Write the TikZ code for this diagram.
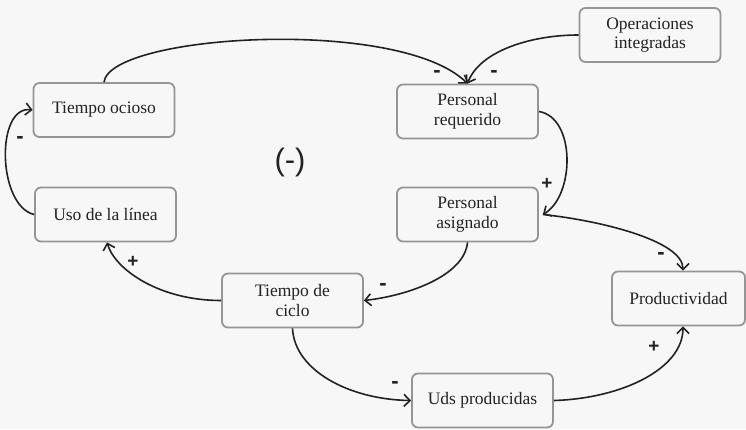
\documentclass[tikz,border=0pt]{standalone}
\usepackage{fontspec}
\setmainfont{Liberation Serif}
\newfontfamily\signfont{Liberation Sans}
\usetikzlibrary{arrows.meta}
\definecolor{boxline}{HTML}{959595}
\definecolor{ink}{HTML}{222222}
\definecolor{paper}{HTML}{F7F7F7}
\tikzset{var/.style={draw=boxline, line width=1.8pt, rounded corners=6pt, minimum width=141pt, minimum height=54pt, inner sep=0pt, align=center, text=ink, font=\fontsize{17.5}{19.5}\selectfont},
  link/.style={ink, line width=1.6pt, -{Straight Barb[length=6pt,width=12pt]}},
  plussign/.style={text=ink, inner sep=0pt, font=\signfont\bfseries\fontsize{19}{19}\selectfont},
  minussign/.style={text=ink, inner sep=0pt, font=\signfont\bfseries\fontsize{22}{22}\selectfont}}

\begin{document}
\begin{tikzpicture}[x=1pt,y=-1pt]
     \fill[paper] (0,0) rectangle (746,429);
     \useasboundingbox (0,0) rectangle (746,429);
     % variables
     \node[var] (ocioso)   at (104,110)     {Tiempo ocioso};
     \node[var] (uso)      at (105.5,214.5) {Uso de la línea};
     \node[var] (requerido) at (467.5,111.5) {Personal\\requerido};
     \node[var] (operaciones) at (650,35)   {Operaciones\\integradas};
     \node[var] (asignado) at (467.5,214.5) {Personal\\asignado};
     \node[var] (ciclo)    at (292.5,300.5) {Tiempo de\\ciclo};
     \node[var, minimum width=133pt] (productividad) at (678.5,298.5) {Productividad};
     \node[var] (uds)      at (482.5,400.5) {Uds producidas};
     \node[text=ink, font=\signfont\fontsize{31}{31}\selectfont] (bucle) at (290,162) {(-)};
     % links
     \draw[link] (ocioso.north) .. controls +(6,-48) and +(-68,-67) .. (requerido.north);
     \draw[link] (operaciones.west) .. controls +(-49,0) and +(12,-32) .. (requerido.north);
     \draw[link] (requerido.east) .. controls +(37,6) and +(32,-19) .. ([xshift=4pt]asignado.east);
     \draw[link] (uso.west) .. controls +(-37,-9) and +(-37,-5) .. (ocioso.west);
     \draw[link] ([xshift=4pt]asignado.east) .. controls +(57,6) and +(0,-30) .. ([xshift=4.5pt]productividad.north);
     \draw[link] (asignado.south) .. controls +(-3,33) and +(45,-5) .. (ciclo.east);
     \draw[link] (ciclo.west) .. controls +(-62,0) and +(8,27) .. ([xshift=1.5pt]uso.south);
     \draw[link] (ciclo.south) .. controls +(2,42) and +(-62,-1) .. (uds.west);
     \draw[link] (uds.east) .. controls +(67,-2) and +(0,43) .. ([xshift=4.5pt]productividad.south);
     % signs
     \node[minussign] (s1) at (437,74)  {-};
     \node[minussign] (s2) at (494,74)  {-};
     \node[plussign]  (s3) at (547,184) {+};
     \node[minussign] (s4) at (20,140)  {-};
     \node[minussign] (s5) at (661,256) {-};
     \node[minussign] (s6) at (383,287) {-};
     \node[plussign]  (s7) at (133,262) {+};
     \node[minussign] (s8) at (395,385) {-};
     \node[plussign]  (s9) at (654,347) {+};
\end{tikzpicture}
\end{document}
